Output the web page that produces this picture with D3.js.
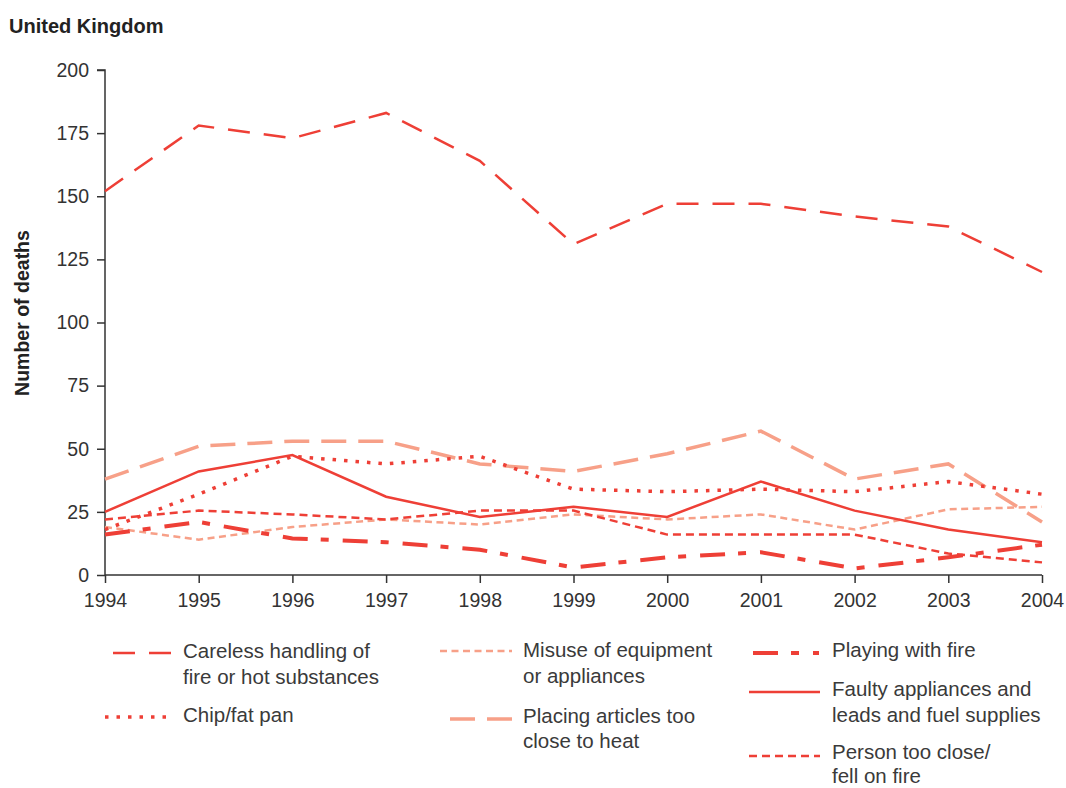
<!DOCTYPE html>
<html><head><meta charset="utf-8">
<script src="https://cdn.jsdelivr.net/npm/d3@7"></script>
<style>body{margin:0;background:#fff;} text{font-family:"Liberation Sans",Arial,Helvetica,sans-serif;}</style>
</head><body>
<svg id="chart" width="1066" height="788"></svg>
<script>
const years = [1994,1995,1996,1997,1998,1999,2000,2001,2002,2003,2004];
const careless = [152,178,173,183,164,131,147,147,142,138,120];
const chipFat = [18,32,47,44,47,34,33,34,33,37,32];
const misuse = [19,14,19,22,20,24,22,24,18,26,27];
const placing = [38,51,53,53,44,41,48,57,38,44,21];
const playing = [16,21,14.5,13,10,3,7,9,2.6,7,12];
const faulty = [25,41,47.5,31,23,27,23,37,25.5,18,13];
const person = [22,25.5,24,22,25.5,25.5,16,16,16,8.5,5];
const yTicks = [0,25,50,75,100,125,150,175,200];

const RED = "#ee3f36", SAL = "#f7a088";
const seriesList = [
  {name:["Careless handling of","fire or hot substances"], values:careless, color:RED, w:2.5, dash:"22,14", lx:[113,172], ly:653, tx:183, ty:653, lh:26},
  {name:["Chip/fat pan"], values:chipFat, color:RED, w:3.5, dash:"3.5,8", lx:[105,172], ly:717, tx:183, ty:717, lh:26},
  {name:["Misuse of equipment","or appliances"], values:misuse, color:SAL, w:2.5, dash:"7,4.5", lx:[440,512], ly:651, tx:523, ty:652, lh:26},
  {name:["Placing articles too","close to heat"], values:placing, color:SAL, w:3.5, dash:"25,12", lx:[450,512], ly:719, tx:523, ty:718, lh:25},
  {name:["Playing with fire"], values:playing, color:RED, w:4, dash:"25,13,8,14", lx:[753,819], ly:653, tx:832, ty:652, lh:26},
  {name:["Faulty appliances and","leads and fuel supplies"], values:faulty, color:RED, w:2.5, dash:null, lx:[749,820], ly:692, tx:832, ty:691, lh:26},
  {name:["Person too close/","fell on fire"], values:person, color:RED, w:2.5, dash:"8,5", lx:[749,820], ly:756, tx:832, ty:754, lh:24}
];

const svg = d3.select("#chart");
const x = d3.scaleLinear().domain([1994,2004]).range([105,1042]);
const y = d3.scaleLinear().domain([0,200]).range([575,70]);

svg.append("text").attr("x",9).attr("y",33).attr("font-size",20).attr("font-weight","bold").attr("fill","#222").text("United Kingdom");
svg.append("text").attr("transform","translate(29,313) rotate(-90)").attr("text-anchor","middle").attr("font-size",19.5).attr("font-weight","bold").attr("fill","#222").text("Number of deaths");

const yAxis = svg.append("g").attr("transform","translate(105,0)")
  .call(d3.axisLeft(y).tickValues(yTicks).tickSize(8).tickPadding(8));
const xAxis = svg.append("g").attr("transform","translate(0,575)")
  .call(d3.axisBottom(x).tickValues(years).tickFormat(d3.format("d")).tickSize(8).tickPadding(10));
[yAxis,xAxis].forEach(a=>{
  a.select(".domain").attr("stroke","#333").attr("stroke-width",1.5);
  a.selectAll(".tick line").attr("stroke","#333").attr("stroke-width",1.5);
  a.selectAll(".tick text").attr("font-size",19.5).attr("fill","#333").attr("font-family","Liberation Sans,Arial,sans-serif");
});
xAxis.select(".domain").attr("d","M105,0H1042");
yAxis.select(".domain").attr("d","M-8,70H0V575");

const line = d3.line().x((d,i)=>x(years[i])).y(d=>y(d));
const order = [3,2,6,4,1,5,0];
order.forEach(k=>{
  const s = seriesList[k];
  svg.append("path").datum(s.values).attr("d",line).attr("fill","none")
    .attr("stroke",s.color).attr("stroke-width",s.w)
    .attr("stroke-dasharray",s.dash).attr("stroke-linejoin","miter");
});

seriesList.forEach(s=>{
  svg.append("line").attr("x1",s.lx[0]).attr("x2",s.lx[1]).attr("y1",s.ly).attr("y2",s.ly)
    .attr("stroke",s.color).attr("stroke-width",s.w).attr("stroke-dasharray",s.dash);
  const t = svg.append("text").attr("x",s.tx).attr("y",s.ty).attr("font-size",20.5).attr("fill","#3a3a3a").attr("dominant-baseline","middle");
  s.name.forEach((n,i)=>t.append("tspan").attr("x",s.tx).attr("dy",i===0?0:s.lh).text(n));
});
</script>
</body></html>
